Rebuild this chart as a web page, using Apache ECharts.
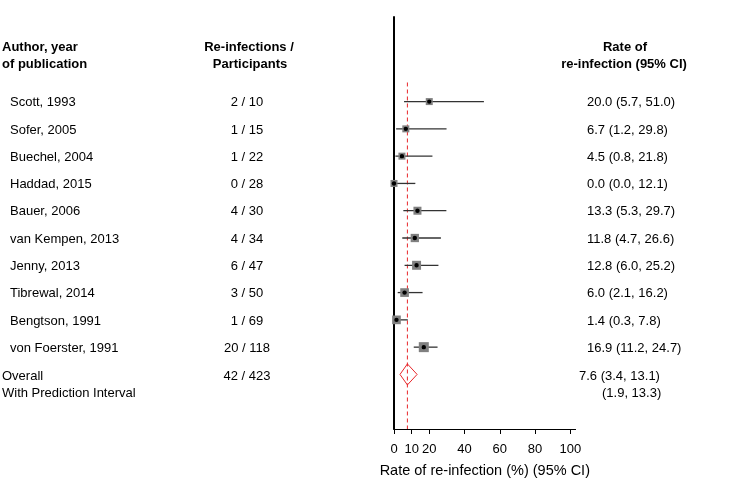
<!DOCTYPE html>
<html><head><meta charset="utf-8">
<script src="https://cdn.jsdelivr.net/npm/echarts@6/dist/echarts.min.js"></script>
<style>html,body{margin:0;padding:0;background:#fff}#c{width:750px;height:491px}</style>
</head><body><div id="c"></div>
<script>
// ---- data ----
const studies = ["Scott, 1993", "Sofer, 2005", "Buechel, 2004", "Haddad, 2015", "Bauer, 2006",
  "van Kempen, 2013", "Jenny, 2013", "Tibrewal, 2014", "Bengtson, 1991", "von Foerster, 1991"];
const events = [2, 1, 1, 0, 4, 4, 6, 3, 1, 20];
const totals = [10, 15, 22, 28, 30, 34, 47, 50, 69, 118];
const rates = [20.0, 6.7, 4.5, 0.0, 13.3, 11.8, 12.8, 6.0, 1.4, 16.9];
const lower = [5.7, 1.2, 0.8, 0.0, 5.3, 4.7, 6.0, 2.1, 0.3, 11.2];
const upper = [51.0, 29.8, 21.8, 12.1, 29.7, 26.6, 25.2, 16.2, 7.8, 24.7];
const weights = [7.4, 7.4, 7.4, 7.4, 9.7, 10.4, 12.2, 11.4, 11.4, 15.1]; // estimated study weights (%)
const pooledEvents = 42, pooledTotal = 423;
const pooledRate = 7.6, pooledLower = 3.4, pooledUpper = 13.1;
const predLower = 1.9, predUpper = 13.3;
const xTicks = [0, 10, 20, 40, 60, 80, 100];

// ---- layout / style ----
const FONT = '"Liberation Sans", Arial, sans-serif';
const fmt = v => v.toFixed(1);
const countText = events.map((e, i) => e + ' / ' + totals[i]);
const rateText = rates.map((r, i) => fmt(r) + ' (' + fmt(lower[i]) + ', ' + fmt(upper[i]) + ')');
const overallRow = studies.length;

const chart = echarts.init(document.getElementById('c'), null, {renderer: 'canvas'});

function txt(x, y, text, align, bold, size) {
  return {type: 'text', x: x, y: y, silent: true,
    style: {text: text, fill: '#000', fontSize: size || 13, fontFamily: FONT,
      fontWeight: bold ? 'bold' : 'normal', align: align || 'left', verticalAlign: 'middle'}};
}

const option = {
  animation: false,
  backgroundColor: '#fff',
  grid: {left: 394, top: 17, width: 181.6, height: 412},
  xAxis: {
    type: 'value', min: 0, max: 103,
    axisLine: {show: true, onZero: false, lineStyle: {color: '#000', width: 1}},
    axisTick: {show: true, customValues: xTicks, length: 5, lineStyle: {color: '#000'}},
    axisLabel: {customValues: xTicks, color: '#000', fontSize: 13, fontFamily: FONT, margin: 14},
    splitLine: {show: false},
    name: 'Rate of re-infection (%) (95% CI)', nameLocation: 'middle', nameGap: 34,
    nameTextStyle: {color: '#000', fontSize: 14.5, fontFamily: FONT}
  },
  yAxis: {
    type: 'value', inverse: true, min: -3.1, max: 12,
    axisLine: {show: true, onZero: false, lineStyle: {color: '#000', width: 2}},
    axisTick: {show: false}, axisLabel: {show: false}, splitLine: {show: false}
  },
  graphic: [
    txt(2, 47, 'Author, year', 'left', true),
    txt(2, 64, 'of publication', 'left', true),
    txt(249, 47, 'Re-infections /', 'center', true),
    txt(250, 64, 'Participants', 'center', true),
    txt(625, 47, 'Rate of', 'center', true),
    txt(624, 64, 're-infection (95% CI)', 'center', true)
  ],
  series: [
    {
      type: 'line', silent: true, symbol: 'none',
      data: [[pooledRate, -0.7], [pooledRate, 12]],
      lineStyle: {color: '#e8262a', width: 1, type: [4, 3]}, z: 1
    },
    {
      type: 'custom', clip: false, z: 3,
      data: rates.map((r, i) => [r, lower[i], upper[i], i, weights[i]]),
      renderItem: function (params, api) {
        const row = api.value(3);
        const c = api.coord([api.value(0), row]);
        const l = api.coord([api.value(1), row]);
        const h = api.coord([api.value(2), row]);
        const s = 2.573 * Math.sqrt(api.value(4));
        return {type: 'group', children: [
          {type: 'line', shape: {x1: l[0], y1: c[1], x2: h[0], y2: c[1]}, style: {stroke: '#333', lineWidth: 1.3}},
          {type: 'rect', shape: {x: c[0] - s / 2, y: c[1] - s / 2, width: s, height: s}, style: {fill: '#808080'}},
          {type: 'circle', shape: {cx: c[0], cy: c[1], r: 2.2}, style: {fill: '#000'}}
        ]};
      }
    },
    {
      type: 'custom', clip: false, z: 3,
      data: [[pooledRate, pooledLower, pooledUpper, overallRow]],
      renderItem: function (params, api) {
        const row = api.value(3);
        const c = api.coord([api.value(0), row]);
        const l = api.coord([api.value(1), row]);
        const h = api.coord([api.value(2), row]);
        const hh = 10.5;
        return {type: 'polygon', shape: {points: [[l[0], c[1]], [c[0], c[1] - hh], [h[0], c[1]], [c[0], c[1] + hh]]},
          style: {fill: 'none', stroke: '#e8262a', lineWidth: 1}};
      }
    },
    {
      type: 'custom', clip: false, silent: true,
      data: studies.map((s, i) => [0, i]),
      renderItem: function (params, api) {
        const i = params.dataIndex;
        const y = api.coord([0, api.value(1)])[1] + 1.2;
        return {type: 'group', children: [
          txt(10, y, studies[i], 'left'),
          txt(247, y, countText[i], 'center'),
          txt(587, y, rateText[i], 'left')
        ]};
      }
    },
    {
      type: 'custom', clip: false, silent: true,
      data: [[0, overallRow]],
      renderItem: function (params, api) {
        const y = api.coord([0, api.value(1)])[1] + 1.5;
        return {type: 'group', children: [
          txt(2, y, 'Overall', 'left'),
          txt(2, y + 17, 'With Prediction Interval', 'left'),
          txt(247, y, pooledEvents + ' / ' + pooledTotal, 'center'),
          txt(579, y, fmt(pooledRate) + ' (' + fmt(pooledLower) + ', ' + fmt(pooledUpper) + ')', 'left'),
          txt(602, y + 17, '(' + fmt(predLower) + ', ' + fmt(predUpper) + ')', 'left')
        ]};
      }
    }
  ]
};
chart.setOption(option);
</script>
</body></html>
